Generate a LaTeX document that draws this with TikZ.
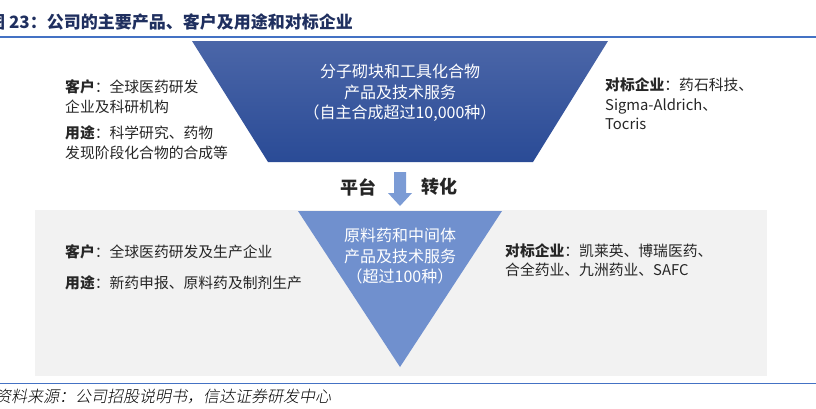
\documentclass[tikz,border=0pt]{standalone}
\usepackage{fontspec}
\setmainfont{Noto Sans CJK SC}
\newfontfamily\notefont[FakeSlant=0.2]{Noto Sans CJK SC Light}
\usetikzlibrary{shapes.geometric}
\definecolor{titlec}{HTML}{1F2F5F}
\definecolor{rulec}{HTML}{4472C4}
\definecolor{panelc}{HTML}{F2F2F2}
\definecolor{trapTop}{HTML}{4B66A8}
\definecolor{trapBot}{HTML}{2A4B96}
\definecolor{tric}{HTML}{7090CE}
\definecolor{arrowc}{HTML}{7B9BD5}
\definecolor{txt}{HTML}{262626}
\tikzset{
  body/.style={inner sep=0pt, text=txt, align=left, font=\fontsize{14.8}{19.5}\selectfont},
  inner/.style={inner sep=0pt, text=white, align=center, font=\fontsize{16}{20.5}\selectfont},
  rulel/.style={draw=rulec, line width=1.5pt},
  flowlabel/.style={inner sep=0pt, text=txt, font=\fontsize{18}{20}\bfseries},
}
\begin{document}
\begin{tikzpicture}[x=1pt,y=-1pt]
\useasboundingbox (0,0) rectangle (816,408);
% title
\node[inner sep=0pt, anchor=west, text=titlec, font=\fontsize{17}{19}\bfseries] (title) at (-12,22) {图 23：公司的主要产品、客户及用途和对标企业};
\draw[rulel] (0,37) -- (816,37);
% top trapezoid
\shade[top color=trapTop, bottom color=trapBot] (192,41) -- (608,41) -- (533,162) -- (268,162) -- cycle;
\node[inner] (topc) at (400,93) {分子砌块和工具化合物\\产品及技术服务\\（自主合成超过10,000种）};
\node[body, anchor=west] (tl1) at (65,96.5) {\textbf{客户}：全球医药研发\\企业及科研机构};
\node[body, anchor=west] (tl2) at (65,142.5) {\textbf{用途}：科学研究、药物\\发现阶段化合物的合成等};
\node[body, anchor=west] (tr1) at (605,104) {\textbf{对标企业}：药石科技、\\Sigma-Aldrich、\\Tocris};
% arrow
\fill[arrowc] (394,172) -- (406,172) -- (406,193) -- (412,193) -- (400,206) -- (388,193) -- (394,193) -- cycle;
\node[flowlabel, anchor=east] (pt) at (377,187) {平台};
\node[flowlabel, anchor=west] (zh) at (421,187) {转化};
% lower panel
\fill[panelc] (35,210) rectangle (767,376);
\fill[tric] (298,211) -- (502,211) -- (400,367) -- cycle;
\node[inner] (lowc) at (400,256.5) {原料药和中间体\\产品及技术服务\\（超过100种）};
\node[body, anchor=west] (bl1) at (65,252) {\textbf{客户}：全球医药研发及生产企业};
\node[body, anchor=west] (bl2) at (65,283) {\textbf{用途}：新药申报、原料药及制剂生产};
\node[body, anchor=west] (br1) at (505,260) {\textbf{对标企业}：凯莱英、博瑞医药、\\合全药业、九洲药业、SAFC};
% footer
\draw[rulel] (0,383.5) -- (816,383.5);
\node[inner sep=0pt, anchor=west, text=black, font=\fontsize{16}{18}\notefont] (src) at (-5,397) {资料来源：公司招股说明书，信达证券研发中心};
\end{tikzpicture}
\end{document}
